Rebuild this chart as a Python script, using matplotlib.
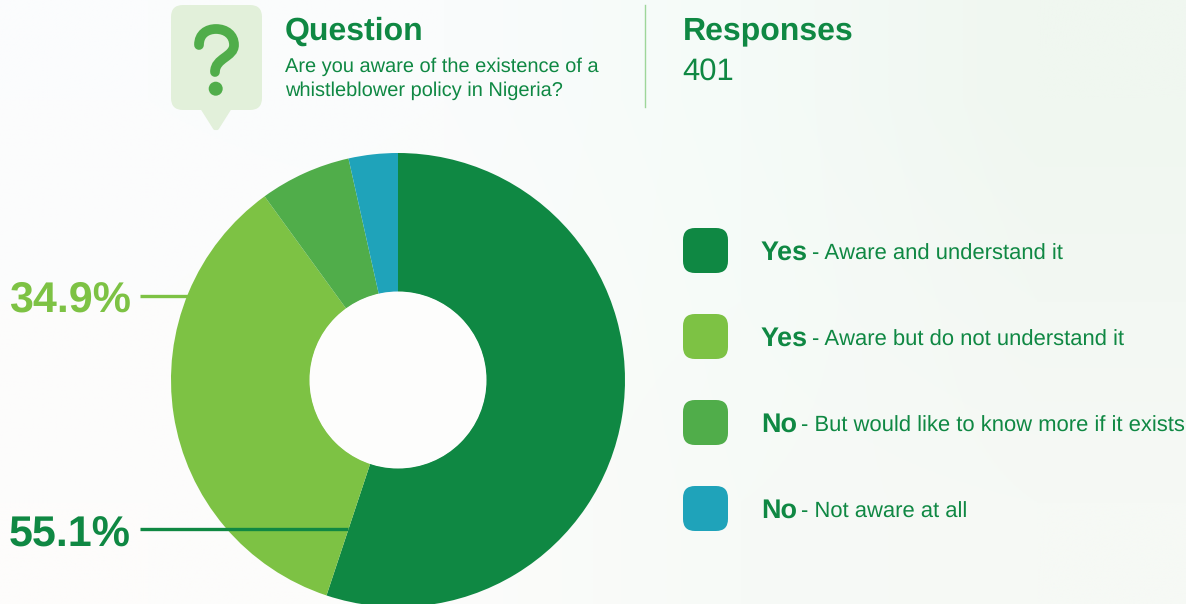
import numpy as np
import matplotlib
matplotlib.use('Agg')
import matplotlib.pyplot as plt
from matplotlib.patches import FancyBboxPatch, Polygon, Circle, PathPatch
from matplotlib.path import Path

plt.rcParams['font.family'] = ['Liberation Sans', 'DejaVu Sans']
plt.rcParams['text.hinting'] = 'no_hinting'
plt.rcParams['text.hinting_factor'] = 1

# Survey values, clockwise from 12 o'clock
shares = [55.1, 34.9, 6.5, 3.5]
colors = ['#0f8843', '#7dc244', '#50ad4a', '#1fa3ba']
lead_words = ['Yes', 'Yes', 'No', 'No']
details = ['- Aware and understand it', '- Aware but do not understand it',
           '- But would like to know more if it exists', '- Not aware at all']
question = 'Are you aware of the existence of a\nwhistleblower policy in Nigeria?'
responses = '401'

GREEN = '#0f8843'

fig = plt.figure(figsize=(11.86, 6.04), dpi=100)
ax = fig.add_axes([0, 0, 1, 1])

# Soft page background, interpolated from a few colours
bg = np.array([
    [[251, 252, 253], [250, 252, 252], [245, 251, 248], [240, 247, 240]],
    [[252, 252, 252], [252, 252, 251], [246, 251, 248], [243, 248, 243]],
    [[253, 252, 251], [252, 252, 251], [247, 250, 247], [246, 249, 245]],
]) / 255
ax.imshow(bg, extent=(0, 1186, 604, 0), aspect='auto', interpolation='bilinear', zorder=0)

# Donut, y runs downward here so the angles are mirrored
ax.pie(shares, colors=colors, startangle=-90, counterclock=True, center=(398, 380),
       radius=227, frame=True, wedgeprops=dict(width=139, linewidth=0), normalize=True)
ax.add_patch(Circle((398, 380), 88.5, fc='#fdfdfc', ec='none', zorder=3))

ax.set_xlim(0, 1186)
ax.set_ylim(604, 0)
ax.set_aspect('auto')
ax.axis('off')

# Percent callouts for the two biggest slices
ax.text(9, 312, f'{shares[1]}%', color=colors[1], fontsize=31, fontweight='bold')
ax.plot([140, 188], [296, 296], color=colors[1], lw=2.4, solid_capstyle='butt', zorder=4)
ax.text(9, 547, f'{shares[0]}%', color=colors[0], fontsize=31, fontweight='bold')
ax.plot([140, 348], [529, 529], color=colors[0], lw=2.4, solid_capstyle='butt', zorder=4)

# Speech bubble icon
bubble = '#e2f0da'
ax.add_patch(FancyBboxPatch((183, 17), 67, 81, boxstyle='round,pad=12,rounding_size=12',
                            fc=bubble, ec='none', zorder=2))
ax.add_patch(Polygon([(203, 109), (229, 109), (217, 128), (215, 128)], closed=True,
                     fc=bubble, ec=bubble, lw=3, joinstyle='round', zorder=2))
hook = Path([(199, 45), (199, 34), (207, 29), (216, 29), (226, 29), (234, 35), (234, 45),
             (234, 57), (215, 58), (215, 72)],
            [Path.MOVETO] + [Path.CURVE4] * 9)
ax.add_patch(PathPatch(hook, fc='none', ec='#50ad4a', lw=7, capstyle='round', zorder=3))
ax.add_patch(Circle((215.7, 88.7), 7, fc='#50ad4a', ec='none', zorder=3))

# Header
ax.text(285, 40, 'Question', color=GREEN, fontsize=23.3, fontweight='bold')
ax.text(285, 72, question.split('\n')[0], color=GREEN, fontsize=14.6)
ax.text(285, 96, question.split('\n')[1], color=GREEN, fontsize=14.6)
ax.plot([645, 645], [5, 107], color='#9ed69a', lw=1)
ax.text(683, 39.5, 'Responses', color=GREEN, fontsize=23, fontweight='bold')
ax.text(682, 80, responses, color=GREEN, fontsize=22.6)

# Legend rows
fig.canvas.draw()
renderer = fig.canvas.get_renderer()
for i, (c, word, detail) in enumerate(zip(colors, lead_words, details)):
    top = 228 + 86 * i
    ax.add_patch(FancyBboxPatch((695, top + 12), 21, 21, boxstyle='round,pad=12,rounding_size=12',
                                fc=c, ec='none', zorder=2))
    t = ax.text(761, top + 32, word, color=GREEN, fontsize=19.2, fontweight='bold')
    right = t.get_window_extent(renderer).x1
    ax.text(right + 4, top + 32, detail, color=GREEN, fontsize=15.8)

fig.savefig('out.png', dpi=100)
